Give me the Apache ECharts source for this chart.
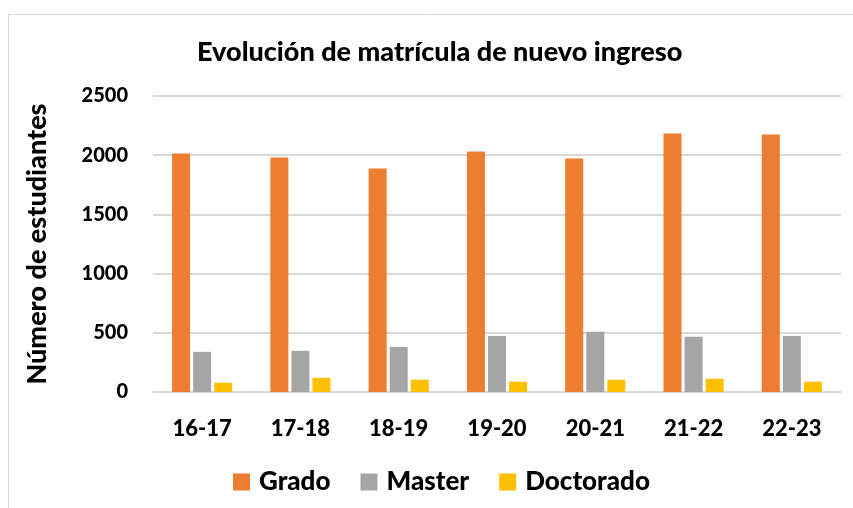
<!DOCTYPE html>
<html>
<head>
<meta charset="utf-8">
<script src="https://cdn.jsdelivr.net/npm/echarts@6/dist/echarts.min.js"></script>
<style>html,body{margin:0;padding:0;background:#fff}#c{width:853px;height:508px}</style>
</head>
<body>
<div id="c"></div>
<script>
const categories = ['16-17','17-18','18-19','19-20','20-21','21-22','22-23'];
const grado = [2014, 1980, 1888, 2031, 1972, 2183, 2175];
const master = [339, 348, 381, 474, 508, 466, 474];
const doctorado = [78, 120, 104, 87, 104, 112, 87];
const yTicks = {min: 0, max: 2500, interval: 500};

const FONT = 'Lato';
const W = 900;
const chart = echarts.init(document.getElementById('c'), null, {renderer: 'canvas'});
chart.setOption({
  backgroundColor: '#ffffff',
  animation: false,
  graphic: [{
    type: 'rect', silent: true, z: -10,
    shape: {x: 8.5, y: 14.5, width: 900, height: 600},
    style: {fill: '#ffffff', stroke: '#d9d9d9', lineWidth: 1}
  }],
  title: {
    text: 'Evolución de matrícula de nuevo ingreso',
    left: 192, top: 34,
    textStyle: {fontFamily: FONT, fontWeight: W, fontSize: 27, color: '#000'}
  },
  legend: {
    left: 228, top: 464,
    itemWidth: 17, itemHeight: 17, itemGap: 30,
    icon: 'rect',
    textStyle: {fontFamily: FONT, fontWeight: W, fontSize: 26, color: '#000', padding: [0, 0, 0, 4]},
    data: ['Grado', 'Master', 'Doctorado']
  },
  grid: {left: 153, right: 12, top: 96, bottom: 116, containLabel: false},
  xAxis: {
    type: 'category', data: categories,
    axisLine: {lineStyle: {color: '#d9d9d9', width: 2}},
    axisTick: {show: false},
    axisLabel: {fontFamily: FONT, fontWeight: W, fontSize: 22, color: '#000', margin: 26}
  },
  yAxis: {
    type: 'value', min: yTicks.min, max: yTicks.max, interval: yTicks.interval,
    name: 'Número de estudiantes', nameLocation: 'middle', nameGap: 102,
    nameTextStyle: {fontFamily: FONT, fontWeight: W, fontSize: 27, color: '#000'},
    axisLine: {show: false}, axisTick: {show: false},
    splitLine: {lineStyle: {color: '#d9d9d9', width: 2}},
    axisLabel: {fontFamily: FONT, fontWeight: W, fontSize: 20, color: '#000', margin: 25,
      formatter: v => String(v)}
  },
  series: [
    {name: 'Grado', type: 'bar', data: grado, barWidth: 18, barGap: '17%', itemStyle: {color: '#ED7D31'}},
    {name: 'Master', type: 'bar', data: master, barWidth: 18, barGap: '17%', itemStyle: {color: '#A5A5A5'}},
    {name: 'Doctorado', type: 'bar', data: doctorado, barWidth: 18, barGap: '17%', itemStyle: {color: '#FFC000'}}
  ]
});
</script>
</body>
</html>
